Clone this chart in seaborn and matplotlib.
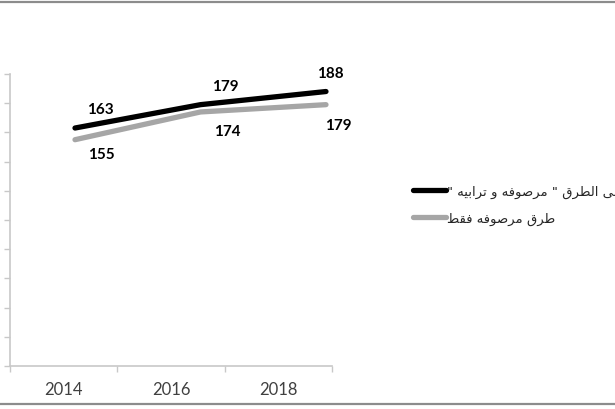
import matplotlib
matplotlib.use("Agg")
import matplotlib.pyplot as plt
import seaborn as sns
import pandas as pd
from matplotlib.lines import Line2D

# ---- data ----
years = ["2014", "2016", "2018"]
series_names = ['على الطرق " مرصوفه و ترابيه "', "طرق مرصوفه فقط"]
values_all = [163, 179, 188]
values_paved = [155, 174, 179]
y_ticks = list(range(0, 201, 20))

# ---- minimal Arabic shaping (presentation forms, visual order) ----
FORMS = {  # isolated, final, initial, medial
    'ا': ('\uFE8D', '\uFE8E', None, None),
    'ب': ('\uFE8F', '\uFE90', '\uFE91', '\uFE92'),
    'ت': ('\uFE95', '\uFE96', '\uFE97', '\uFE98'),
    'ر': ('\uFEAD', '\uFEAE', None, None),
    'ص': ('\uFEB9', '\uFEBA', '\uFEBB', '\uFEBC'),
    'ط': ('\uFEC1', '\uFEC2', '\uFEC3', '\uFEC4'),
    'ع': ('\uFEC9', '\uFECA', '\uFECB', '\uFECC'),
    'ف': ('\uFED1', '\uFED2', '\uFED3', '\uFED4'),
    'ق': ('\uFED5', '\uFED6', '\uFED7', '\uFED8'),
    'ل': ('\uFEDD', '\uFEDE', '\uFEDF', '\uFEE0'),
    'م': ('\uFEE1', '\uFEE2', '\uFEE3', '\uFEE4'),
    'ه': ('\uFEE9', '\uFEEA', '\uFEEB', '\uFEEC'),
    'و': ('\uFEED', '\uFEEE', None, None),
    'ى': ('\uFEEF', '\uFEF0', None, None),
    'ي': ('\uFEF1', '\uFEF2', '\uFEF3', '\uFEF4'),
}


def shape(text):
    out = []
    n = len(text)
    for i, ch in enumerate(text):
        if ch not in FORMS:
            out.append(ch)
            continue
        prev = text[i - 1] if i > 0 else None
        nxt = text[i + 1] if i < n - 1 else None
        jp = prev in FORMS and FORMS[prev][2] is not None
        jn = FORMS[ch][2] is not None and nxt in FORMS
        iso, fin, ini, med = FORMS[ch]
        if jp and jn:
            out.append(med)
        elif jp:
            out.append(fin)
        elif jn:
            out.append(ini)
        else:
            out.append(iso)
    return "".join(out)[::-1]


df = pd.DataFrame({
    "idx": list(range(len(years))) * 2,
    "value": values_all + values_paved,
    "series": [series_names[0]] * 3 + [series_names[1]] * 3,
})

sns.set_theme(style="white")
plt.rcParams["font.family"] = ["Lato", "DejaVu Sans"]

W, H = 615, 410
fig = plt.figure(figsize=(W / 100, H / 100), dpi=100)
fig.patch.set_facecolor("white")

left, right, top, bottom = 10, 332, 75, 367
ax = fig.add_axes([left / W, (H - bottom) / H, (right - left) / W, (bottom - top) / H])
ax.set_xlim(-0.5, 2.5)
ax.set_ylim(0, 200)
axis_col = "#C8C8C8"
for s in ["top", "right"]:
    ax.spines[s].set_visible(False)
for s in ["left", "bottom"]:
    ax.spines[s].set_color(axis_col)
    ax.spines[s].set_linewidth(1.2)
ax.set_yticks(y_ticks)
ax.tick_params(axis="y", which="major", length=4, width=1, color=axis_col,
               labelleft=False, direction="out", left=True)
ax.set_xticks(range(len(years)), labels=years)
ax.set_xticks([-0.5, 0.5, 1.5, 2.5], minor=True)
ax.tick_params(axis="x", which="major", length=0, pad=11, labelsize=12, labelcolor="#404040")
ax.tick_params(axis="x", which="minor", length=4, width=1, color=axis_col, bottom=True, direction="out")
ax.grid(False)

# overlay axes for the series lines
ax2 = ax.twiny()
ax2.set_xlim(-0.518, 2.048)
ax2.set_ylim(0, 200)
ax2.axis("off")
palette = {series_names[0]: "#000000", series_names[1]: "#A6A6A6"}
sns.lineplot(data=df, x="idx", y="value", hue="series", palette=palette,
             linewidth=3.8, solid_capstyle="round", legend=False, ax=ax2)

label_offsets_all = [(18, 14), (18, 13.5), (3, 13)]
label_offsets_paved = [(19, -10), (19, -14), (9, -14.5)]
for i, v in enumerate(values_all):
    ax2.annotate(str(v), (i, v), xytext=label_offsets_all[i], textcoords="offset points",
                 ha="center", va="center", fontsize=11, fontweight="bold", color="#000000")
for i, v in enumerate(values_paved):
    ax2.annotate(str(v), (i, v), xytext=label_offsets_paved[i], textcoords="offset points",
                 ha="center", va="center", fontsize=11, fontweight="bold", color="#000000")

handles = [Line2D([], [], color=palette[n], lw=3.8, solid_capstyle="round") for n in series_names]
leg = fig.legend(handles, [shape(n) for n in series_names], loc="upper left",
                 bbox_to_anchor=(413 / W, 1 - 185.5 / H), frameon=False, borderpad=0,
                 borderaxespad=0, handlelength=2.5, handletextpad=0.1, labelspacing=1.05,
                 prop={"family": "DejaVu Sans", "size": 9.5})

# outer frame lines
fig.add_artist(Line2D([0, 1], [1 - 2.5 / H, 1 - 2.5 / H], transform=fig.transFigure, color="#8C8C8C", lw=1.6))
fig.add_artist(Line2D([0, 1], [1 - 405 / H, 1 - 405 / H], transform=fig.transFigure, color="#8C8C8C", lw=1.6))

fig.savefig("out.png", dpi=100, facecolor="white")
